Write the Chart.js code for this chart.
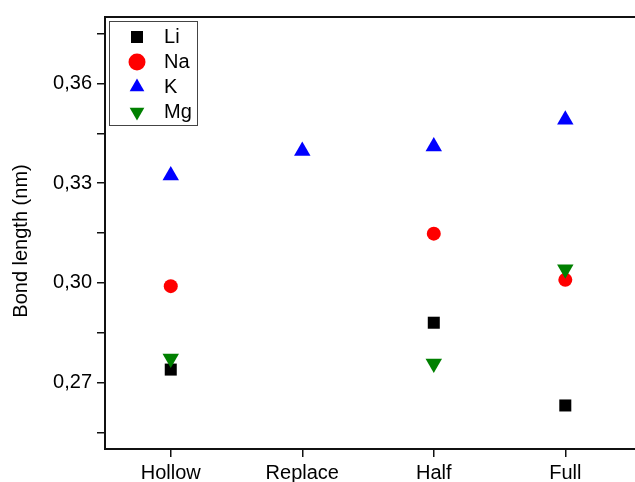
<!DOCTYPE html>
<html>
<head>
<meta charset="utf-8">
<script src="https://cdn.jsdelivr.net/npm/chart.js@4/dist/chart.umd.min.js"></script>
<style>
  html, body { margin: 0; padding: 0; background: #fff; overflow: hidden; }
  #wrap { width: 635px; height: 482px; position: relative; overflow: hidden; }
  #c { display: block; }
</style>
</head>
<body>
<div id="wrap"><canvas id="c"></canvas></div>
<script>
// ---- data ----
const categories = ['Hollow', 'Replace', 'Half', 'Full'];
const li = [0.2739, null, 0.2880, 0.2631];
const na = [0.2990, null, 0.3148, 0.3009];
const k  = [0.3323, 0.3397, 0.3410, 0.3491];
const mg = [0.2772, null, 0.2757, 0.3041];
const seriesNames = ['Li', 'Na', 'K', 'Mg'];
const yMajorTicks = [0.27, 0.30, 0.33, 0.36];
const yMinorTicks = [0.255, 0.285, 0.315, 0.345, 0.375];
const yTitle = 'Bond length (nm)';

const FONT = '"Liberation Sans", Arial, sans-serif';

function toPoints(arr) {
  const out = [];
  arr.forEach((v, i) => { if (v !== null) out.push({ x: i, y: v }); });
  return out;
}

const datasets = [
  { label: seriesNames[0], data: toPoints(li), pointStyle: 'rect', pointRadius: 8.5,
    backgroundColor: '#000000', borderColor: '#000000', borderWidth: 0, order: 4 },
  { label: seriesNames[1], data: toPoints(na), pointStyle: 'circle', pointRadius: 7,
    backgroundColor: '#ff0000', borderColor: '#ff0000', borderWidth: 0, order: 3 },
  { label: seriesNames[2], data: toPoints(k), pointStyle: 'triangle', pointRadius: 9.5,
    backgroundColor: '#0000ff', borderColor: '#0000ff', borderWidth: 0, order: 2 },
  { label: seriesNames[3], data: toPoints(mg), pointStyle: 'triangle', pointRotation: 180, pointRadius: 9.5,
    backgroundColor: '#008000', borderColor: '#008000', borderWidth: 0, order: 1 }
];

const framePlugin = {
  id: 'framePlugin',
  afterLayout(chart) {
    const lg = chart.legend;
    if (lg) {
      lg.left = 126; lg.top = 22; lg.right = 320; lg.bottom = 482;
    }
  },
  afterDraw(chart) {
    const ctx = chart.ctx;
    ctx.save();
    // legend frame
    ctx.strokeStyle = '#444';
    ctx.lineWidth = 1;
    ctx.strokeRect(109.5, 21.5, 88, 104);
    // y axis title
    ctx.fillStyle = '#000';
    ctx.font = '20px ' + FONT;
    ctx.textAlign = 'center';
    ctx.textBaseline = 'middle';
    ctx.translate(21, 241);
    ctx.rotate(-Math.PI / 2);
    ctx.fillText(yTitle, 0, 0);
    ctx.restore();
  }
};

new Chart(document.getElementById('c'), {
  type: 'scatter',
  data: { datasets },
  plugins: [framePlugin],
  options: {
    responsive: true,
    maintainAspectRatio: false,
    animation: false,
    layout: { padding: 0, autoPadding: false },
    plugins: {
      tooltip: { enabled: false },
      legend: {
        position: 'chartArea',
        align: 'start',
        labels: {
          usePointStyle: true,
          boxWidth: 12,
          boxHeight: 12,
          padding: 5,
          color: '#000',
          font: { family: FONT, size: 20 },
          sort: (a, b) => a.datasetIndex - b.datasetIndex,
          generateLabels(chart) {
            const items = Chart.defaults.plugins.legend.labels.generateLabels(chart);
            items.forEach(it => { it.text = '  ' + it.text; });
            return items;
          }
        }
      }
    },
    scales: {
      x: {
        type: 'linear',
        position: 'bottom',
        min: -0.5,
        max: 3.53,
        afterFit(s) { s.height = 33; },
        afterBuildTicks(s) { s.ticks = categories.map((c, i) => ({ value: i })); },
        ticks: {
          padding: 4,
          color: '#000',
          font: { family: FONT, size: 20 },
          callback: (v) => categories[v] !== undefined ? categories[v] : ''
        },
        grid: { display: true, drawOnChartArea: false, drawTicks: true, tickLength: 8, color: '#111', lineWidth: 1.5 },
        border: { display: true, color: '#111', width: 2 }
      },
      x2: {
        type: 'linear',
        position: 'top',
        min: -0.5,
        max: 3.53,
        afterFit(s) { s.height = 14; },
        ticks: { display: false },
        grid: { display: false, drawTicks: false },
        border: { display: true, color: '#111', width: 2 }
      },
      y: {
        type: 'linear',
        position: 'left',
        min: 0.25,
        max: 0.38,
        afterFit(s) { s.width = 105; },
        afterBuildTicks(s) {
          s.ticks = yMajorTicks.concat(yMinorTicks).sort((a, b) => a - b).map(v => ({ value: v }));
        },
        ticks: {
          padding: 5,
          color: '#000',
          font: { family: FONT, size: 20 },
          callback: (v) => yMajorTicks.some(m => Math.abs(m - v) < 1e-9) ? v.toFixed(2).replace('.', ',') : ''
        },
        grid: { display: true, drawOnChartArea: false, drawTicks: true, tickLength: 8, color: '#111', lineWidth: 1.5 },
        border: { display: true, color: '#111', width: 2 }
      }
    }
  }
});
</script>
</body>
</html>
